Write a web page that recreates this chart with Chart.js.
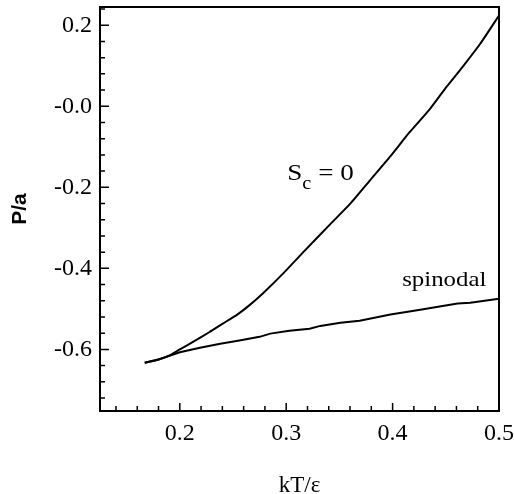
<!DOCTYPE html>
<html>
<head>
<meta charset="utf-8">
<script src="https://cdn.jsdelivr.net/npm/chart.js@4.4.1/dist/chart.umd.min.js"></script>
<style>
html,body{margin:0;padding:0;background:#fff;}
#wrap{width:514px;height:494px;}
</style>
</head>
<body>
<div id="wrap"><canvas id="c" width="514" height="494"></canvas></div>
<script>
// ---- data ----
const scX = [0.167,0.180,0.191,0.200,0.212,0.228,0.240,0.254,0.265,0.278,0.297,0.319,0.341,0.360,0.379,0.398,0.416,0.435,0.451,0.466,0.482,0.500];
const scY = [-0.633,-0.625,-0.614,-0.600,-0.582,-0.557,-0.537,-0.514,-0.492,-0.462,-0.413,-0.352,-0.292,-0.241,-0.182,-0.123,-0.064,-0.007,0.049,0.098,0.153,0.224];
const spX = [0.167,0.180,0.191,0.200,0.219,0.238,0.256,0.275,0.285,0.303,0.322,0.332,0.351,0.369,0.398,0.426,0.461,0.473,0.500];
const spY = [-0.633,-0.625,-0.615,-0.607,-0.596,-0.586,-0.578,-0.569,-0.561,-0.554,-0.549,-0.542,-0.534,-0.529,-0.514,-0.502,-0.487,-0.485,-0.475];
const xTicks = [0.2,0.3,0.4,0.5];
const xTickLabels = ['0.2','0.3','0.4','0.5'];
const yTicks = [-0.6,-0.4,-0.2,0.0,0.2];
const yTickLabels = ['-0.6','-0.4','-0.2','-0.0','0.2'];
const xMinor = [0.14,0.16,0.18,0.22,0.24,0.26,0.28,0.32,0.34,0.36,0.38,0.42,0.44,0.46,0.48];
const yMinor = [-0.72,-0.68,-0.64,-0.56,-0.52,-0.48,-0.44,-0.36,-0.32,-0.28,-0.24,-0.16,-0.12,-0.08,-0.04,0.04,0.08,0.12,0.16,0.24];
const xRange = [0.125, 0.5];
const yRange = [-0.752, 0.245];

const toPts = (xs, ys) => xs.map((x,i)=>({x:x, y:ys[i]}));
const FONT = '"Liberation Serif", "Times New Roman", Times, serif';
const SANS = '"Liberation Sans", Arial, sans-serif';

const frame = {
  id:'frame',
  afterDraw(chart){
    const {ctx, chartArea:a, scales:{x, y}} = chart;
    ctx.save();
    ctx.strokeStyle = '#000';
    ctx.lineWidth = 2;
    ctx.strokeRect(a.left, a.top, a.right-a.left, a.bottom-a.top);
    ctx.lineWidth = 1.5;
    ctx.beginPath();
    xTicks.forEach(v=>{const p=x.getPixelForValue(v); ctx.moveTo(p,a.bottom); ctx.lineTo(p,a.bottom-8);});
    xMinor.forEach(v=>{const p=x.getPixelForValue(v); ctx.moveTo(p,a.bottom); ctx.lineTo(p,a.bottom-5);});
    yTicks.forEach(v=>{const p=y.getPixelForValue(v); ctx.moveTo(a.left,p); ctx.lineTo(a.left+9,p);});
    yMinor.forEach(v=>{const p=y.getPixelForValue(v); ctx.moveTo(a.left,p); ctx.lineTo(a.left+5,p);});
    ctx.stroke();
    // annotations
    ctx.fillStyle = '#000';
    ctx.textBaseline = 'alphabetic';
    const drawStretched = (txt, px, py, size) => {
      ctx.save();
      ctx.translate(px, py);
      ctx.scale(1.13, 1);
      ctx.font = size + 'px ' + FONT;
      ctx.fillText(txt, 0, 0);
      const w = ctx.measureText(txt).width * 1.13;
      ctx.restore();
      return w;
    };
    let px = x.getPixelForValue(0.301), py = y.getPixelForValue(-0.182);
    let w = drawStretched('S', px, py, 24);
    w += drawStretched('c', px + w, py + 9, 18);
    drawStretched(' = 0', px + w, py, 24);
    drawStretched('spinodal', x.getPixelForValue(0.409), y.getPixelForValue(-0.443), 22);
    ctx.restore();
  }
};

function zeroPad(s){ s.paddingTop = 0; s.paddingBottom = 0; s.paddingLeft = 0; s.paddingRight = 0; }

new Chart(document.getElementById('c'), {
  type:'line',
  data:{
    datasets:[
      {label:'Sc = 0', data:toPts(scX, scY), borderColor:'#000', borderWidth:2, pointRadius:0, tension:0.2, fill:false},
      {label:'spinodal', data:toPts(spX, spY), borderColor:'#000', borderWidth:2, pointRadius:0, tension:0, fill:false}
    ]
  },
  options:{
    responsive:false,
    animation:false,
    layout:{autoPadding:false, padding:{left:0, right:15, top:7, bottom:0}},
    plugins:{legend:{display:false}, tooltip:{enabled:false}},
    scales:{
      x:{
        type:'linear', min:xRange[0], max:xRange[1],
        afterBuildTicks(s){ s.ticks = xTicks.map(v=>({value:v})); },
        afterFit(s){ s.height = 83; zeroPad(s); },
        grid:{display:false, drawTicks:false},
        border:{display:false},
        ticks:{color:'#000', padding:8, font:{family:FONT, size:24}, maxRotation:0,
          callback:(v)=>{const i = xTicks.findIndex(t=>Math.abs(t-v)<1e-9); return i>=0 ? xTickLabels[i] : '';}},
        title:{display:true, text:'kT/ε', color:'#000', font:{family:FONT, size:23}, padding:{top:0, bottom:-6}}
      },
      y:{
        type:'linear', min:yRange[0], max:yRange[1],
        afterBuildTicks(s){ s.ticks = yTicks.map(v=>({value:v})); },
        afterFit(s){ s.width = 100; zeroPad(s); },
        grid:{display:false, drawTicks:false},
        border:{display:false},
        ticks:{color:'#000', padding:8, font:{family:FONT, size:24},
          callback:(v)=>{const i = yTicks.findIndex(t=>Math.abs(t-v)<1e-9); return i>=0 ? yTickLabels[i] : '';}},
        title:{display:true, text:'P/a', color:'#000', font:{family:SANS, size:21, weight:'bold'}, padding:{top:8, bottom:0}}
      }
    }
  },
  plugins:[frame]
});
</script>
</body>
</html>
